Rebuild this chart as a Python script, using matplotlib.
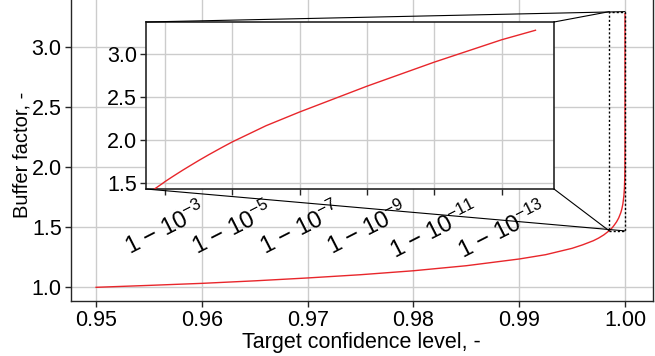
import numpy as np
import matplotlib
matplotlib.use("Agg")
import matplotlib.pyplot as plt
from matplotlib.patches import Rectangle, ConnectionPatch
from matplotlib.ticker import FixedLocator, NullLocator, FixedFormatter

plt.rcParams['font.family'] = ['Liberation Sans', 'DejaVu Sans']
plt.rcParams['mathtext.fontset'] = 'custom'
plt.rcParams['mathtext.rm'] = 'Liberation Sans'
plt.rcParams['mathtext.it'] = 'Liberation Sans:italic'
plt.rcParams['mathtext.bf'] = 'Liberation Sans:bold'

# exceedance probability (1 - confidence level)
exceedance = [0.05, 0.045, 0.04, 0.035, 0.03, 0.025, 0.02, 0.015, 0.01, 0.0075,
              0.005, 0.004, 0.003, 0.0025, 0.002, 0.0015, 0.0012, 1e-3, 8e-4,
              6e-4, 4e-4, 3e-4, 2e-4, 1e-4, 5e-5, 2e-5,
              1e-5, 1e-6, 1e-7, 1e-8, 1e-9, 1e-10, 1e-11, 1e-12, 1e-13, 1e-14]
buffer_factor = [1.0, 1.016, 1.033, 1.054, 1.078, 1.105, 1.138, 1.18, 1.236, 1.272,
                 1.325, 1.354, 1.388, 1.410, 1.437, 1.471, 1.497, 1.52, 1.545,
                 1.577, 1.621, 1.652, 1.694, 1.765, 1.833, 1.919,
                 1.982, 2.17, 2.33, 2.48, 2.63, 2.77, 2.91, 3.04, 3.17, 3.28]
confidence = [1.0 - e for e in exceedance]

main_xticks = [0.95, 0.96, 0.97, 0.98, 0.99, 1.00]
main_yticks = [1.0, 1.5, 2.0, 2.5, 3.0]
inset_xticks = [1e-3, 1e-5, 1e-7, 1e-9, 1e-11, 1e-13]
inset_xlabels = ['1 − 10$^{-3}$', '1 − 10$^{-5}$', '1 − 10$^{-7}$',
                 '1 − 10$^{-9}$', '1 − 10$^{-11}$', '1 − 10$^{-13}$']
inset_yticks = [1.5, 2.0, 2.5, 3.0]

# zoom window shown on the main axes
zoom_x = (0.99852, 1.0)
zoom_y = (1.47, 3.297)

W, H = 655, 356
fig = plt.figure(figsize=(W / 100, H / 100), dpi=100)

line_color = '#e8262b'
grid_kw = dict(color='#cccccc', linewidth=1.0)
spine_color = '#262626'
fs = 15.5

ax = fig.add_axes([70.7 / W, (H - 301) / H, (652.7 - 70.7) / W, 301 / H])
ax.plot(confidence, buffer_factor, color=line_color, lw=1.0, zorder=3)
ax.set_xlim(0.9476, 1.00262)
ax.set_ylim(0.886, 3.394)
ax.set_xticks(main_xticks)
ax.set_xticklabels([f'{v:.2f}' for v in main_xticks])
ax.set_yticks(main_yticks)
ax.set_yticklabels([f'{v:.1f}' for v in main_yticks])
ax.grid(True, **grid_kw)
ax.set_axisbelow(True)
ax.spines['top'].set_visible(False)
for s in ['left', 'right', 'bottom']:
    ax.spines[s].set_color(spine_color)
    ax.spines[s].set_linewidth(1.0)
ax.tick_params(labelsize=fs, length=4, width=1.0, color=spine_color, pad=2.5)
ax.set_xlabel('Target confidence level, -', fontsize=fs, labelpad=1)
ax.set_ylabel('Buffer factor, -', fontsize=14.5)
ax.yaxis.set_label_coords(-0.068, 0.485)

rect = Rectangle((zoom_x[0], zoom_y[0]), zoom_x[1] - zoom_x[0], zoom_y[1] - zoom_y[0],
                 fill=False, ec='black', lw=1.0, ls=(0, (1.5, 1.5)), zorder=4)
ax.add_patch(rect)

axin = fig.add_axes([146 / W, (H - 189) / H, 408 / W, 167 / H])
axin.plot(exceedance, buffer_factor, color=line_color, lw=1.0, zorder=3)
axin.set_xscale('log')
axin.set_xlim(10 ** -2.436, 10 ** -14.55)
axin.set_ylim(1.434, 3.376)
axin.xaxis.set_major_locator(FixedLocator(inset_xticks))
axin.xaxis.set_major_formatter(FixedFormatter(inset_xlabels))
axin.xaxis.set_minor_locator(NullLocator())
axin.set_yticks(inset_yticks)
axin.set_yticklabels([f'{v:.1f}' for v in inset_yticks])
axin.grid(True, **grid_kw)
axin.set_axisbelow(True)
for s in axin.spines.values():
    s.set_color(spine_color)
    s.set_linewidth(1.2)
axin.tick_params(labelsize=fs, length=4, width=1.0, color=spine_color, pad=2.5)
for lab in axin.get_xticklabels():
    lab.set_rotation(27)
    lab.set_fontsize(17)

pairs = [((0, 1), (zoom_x[1], zoom_y[1])),
         ((1, 1), (zoom_x[0], zoom_y[1])),
         ((0, 0), (zoom_x[1], zoom_y[0])),
         ((1, 0), (zoom_x[0], zoom_y[0]))]
for a, b in pairs:
    cp = ConnectionPatch(xyA=a, coordsA=axin.transAxes, xyB=b, coordsB=ax.transData,
                         color='black', lw=0.8, zorder=5)
    fig.add_artist(cp)

fig.savefig('out.png', dpi=100)
